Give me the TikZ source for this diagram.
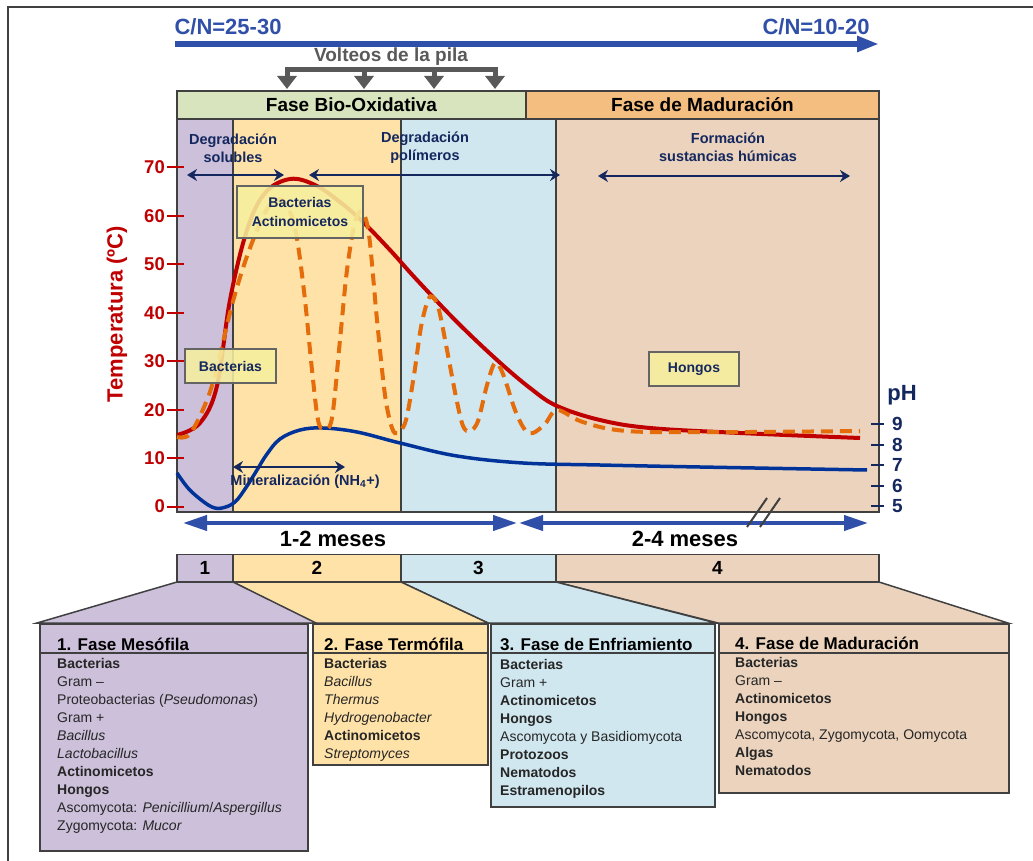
\documentclass[tikz,border=0pt]{standalone}
\usepackage{fontspec}
\setmainfont{Liberation Sans}
\usetikzlibrary{arrows.meta, positioning, calc}

\definecolor{frameGray}{RGB}{64,64,64}
\definecolor{cnBlue}{RGB}{47,79,168}
\definecolor{navyText}{RGB}{20,40,95}
\definecolor{tempRed}{RGB}{192,0,0}
\definecolor{heatOrange}{RGB}{228,108,10}
\definecolor{phBlue}{RGB}{0,51,153}
\definecolor{mesoColor}{RGB}{204,192,218}
\definecolor{termoColor}{RGB}{255,226,168}
\definecolor{enfriaColor}{RGB}{208,231,239}
\definecolor{maduraColor}{RGB}{235,211,189}
\definecolor{bioColor}{RGB}{215,228,189}
\definecolor{madHeadColor}{RGB}{243,190,128}
\definecolor{tagColor}{RGB}{246,239,158}
\definecolor{tagEdge}{RGB}{100,100,100}
\definecolor{turnGray}{RGB}{89,89,89}

\newcommand{\fsz}[1]{\fontsize{#1}{#1}\selectfont}

\tikzstyle{phasehead} = [rectangle, draw=frameGray, line width=1.5pt, minimum height=28pt, inner sep=0pt, font=\fsz{19}\bfseries]
\tikzstyle{numbox} = [rectangle, draw=frameGray, line width=1.5pt, minimum height=27pt, inner sep=0pt, font=\fsz{19}\bfseries]
\tikzstyle{tagbox} = [rectangle, draw=tagEdge, line width=1.5pt, fill=tagColor, fill opacity=0.88, text opacity=1, text=navyText, inner sep=0pt, align=center, font=\fontsize{14}{19}\selectfont\bfseries]
\tikzstyle{listbox} = [rectangle, draw=frameGray, line width=1.8pt, anchor=north west, inner sep=0pt]
\tikzstyle{listtitle} = [anchor=base west, inner sep=0pt, font=\fsz{17}\bfseries]
\tikzstyle{listtext} = [anchor=north west, inner sep=0pt, align=left, text=black!85, font=\fontsize{14}{18}\selectfont]
\tikzstyle{stagelabel} = [text=navyText, align=center, font=\fontsize{14.5}{18}\selectfont\bfseries]
\tikzstyle{spanarrow} = [navyText, line width=1.8pt, {Stealth[length=10pt,width=12pt]}-{Stealth[length=10pt,width=12pt]}]
\tikzstyle{timearrow} = [cnBlue, line width=4pt, {Triangle[length=24pt,width=15pt]}-{Triangle[length=24pt,width=15pt]}]
\tikzstyle{timelabel} = [font=\fsz{22}\bfseries]
\tikzstyle{turnarrow} = [turnGray, line width=5pt]
\tikzstyle{templabel} = [text=tempRed, anchor=east, inner sep=0pt, font=\fsz{18.5}\bfseries]
\tikzstyle{phlabel} = [text=navyText, anchor=west, inner sep=0pt, font=\fsz{19}\bfseries]
\tikzstyle{cnlabel} = [text=cnBlue, font=\fsz{22}\bfseries]
\tikzstyle{funnel} = [draw=frameGray, line width=1.5pt]

\begin{document}
\begin{tikzpicture}[x=1pt, y=-1pt]
\useasboundingbox (0,0) rectangle (1033,861);
\draw[frameGray, line width=2.5pt] (8,861) -- (8,7) -- (1033,7);

\node (cnHigh) [cnlabel] at (228,27) {C/N=25-30};
\node (cnLow) [cnlabel] at (816,27) {C/N=10-20};
\coordinate (cnStart) at (175,44);
\coordinate (cnEnd) at (879,44);
\draw[cnBlue, line width=5.5pt, -{Triangle[length=22pt,width=15pt]}] (cnStart) -- (cnEnd);

\node (volteos) [text=turnGray, font=\fsz{19}\bfseries] at (391,57) {Volteos de la pila};
\foreach \i/\x in {1/287,2/364,3/434,4/495} {
  \coordinate (v\i) at (\x,70);
  \coordinate (vt\i) at (\x,89);
}
\draw[turnarrow, line cap=rect] (v1) -- (v4);
\foreach \i in {1,...,4}
  \draw[turnarrow, -{Triangle[length=13pt,width=19pt]}] (v\i) -- (vt\i);

\node (bioHead) [phasehead, fill=bioColor, minimum width=349pt] at (351.5,105) {Fase Bio-Oxidativa};
\node (madHead) [phasehead, fill=madHeadColor, minimum width=353pt] at (702.5,105) {Fase de Maduración};

\fill[mesoColor] (177,119) rectangle (233,512);
\fill[termoColor] (233,119) rectangle (401,512);
\fill[enfriaColor] (401,119) rectangle (556,512);
\fill[maduraColor] (556,119) rectangle (879,512);
\draw[frameGray, line width=1.5pt] (177,119) rectangle (879,512);
\foreach \x in {233,401,556}
  \draw[frameGray, line width=1.5pt] (\x,119) -- (\x,512);

\draw[phBlue, line width=3.5pt] plot[smooth, tension=0.6] coordinates {(177,473) (188,488) (200,499) (212,507) (222,508) (235,502) (247,486) (257,470) (267,454) (280,439) (300,430) (323,428) (357,432) (400,443) (457,456) (523,463) (600,465) (700,467) (867,470)};
\draw[tempRed, line width=4pt] plot[smooth, tension=0.6] coordinates {(177,435) (200,423) (217,386) (230,300) (247,230) (265,193) (290,179) (315,185) (340,202) (363,222) (390,250) (417,280) (457,322) (497,360) (530,388) (557,406) (600,420) (650,428) (740,433) (860,438)};
\draw[heatOrange, line width=4pt, dash pattern=on 12pt off 7pt] plot[smooth, tension=0.55] coordinates {(177,437) (190,434) (207,400) (217,367) (232,305) (245,262) (258,228) (270,205) (282,200) (292,217) (298,245) (305,300) (312,370) (318,420) (324,429) (332,418) (340,340) (347,270) (355,222) (362,212) (369,235) (377,320) (385,395) (392,428) (398,433) (406,420) (414,375) (421,327) (428,300) (433,297) (439,310) (447,350) (456,397) (463,426) (470,431) (478,421) (487,385) (495,363) (503,374) (515,410) (525,430) (533,433) (545,424) (557,410) (580,421) (610,429) (650,432) (750,432) (860,431)};

\foreach \t in {0,10,...,70} {
  \draw[tempRed, line width=2pt] (167,{506.5-4.843*\t}) -- (184,{506.5-4.843*\t});
  \node (temp\t) [templabel] at (165,{506.5-4.843*\t}) {\t};
}
\node (tempTitle) [rotate=90, text=tempRed, font=\fsz{22}\bfseries] at (117,314) {Temperatura (ºC)};

\foreach \p in {5,...,9} {
  \draw[navyText, line width=2pt] (871,{506-20.5*(\p-5)}) -- (884,{506-20.5*(\p-5)});
  \node (ph\p) [phlabel] at (892,{506-20.5*(\p-5)}) {\p};
}
\node (phTitle) [text=navyText, font=\fsz{22}\bfseries] at (902,395) {pH};

\node (degSol) [stagelabel] at (233,148) {Degradación\\solubles};
\node (degPol) [stagelabel] at (425,148) {Degradación\\polímeros};
\node (humic) [stagelabel] at (728,147) {Formación\\sustancias húmicas};
\coordinate (solA) at (187,175);
\coordinate (solB) at (284,175);
\coordinate (polA) at (309,175);
\coordinate (polB) at (560,175);
\coordinate (humA) at (598,176);
\coordinate (humB) at (850,176);
\draw[spanarrow] (solA) -- (solB);
\draw[spanarrow] (polA) -- (polB);
\draw[spanarrow] (humA) -- (humB);

\node (tagBA) [tagbox, minimum width=126pt, minimum height=52pt] at (300,212) {Bacterias\\Actinomicetos};
\node (tagB) [tagbox, minimum width=91pt, minimum height=34pt] at (230.5,366) {Bacterias};
\node (tagH) [tagbox, minimum width=90pt, minimum height=34pt] at (694,369) {Hongos};

\coordinate (minA) at (233,467);
\coordinate (minB) at (345,467);
\draw[spanarrow] (minA) -- (minB);
\node (mineral) [stagelabel] at (305,482) {Mineralización (NH\textsubscript{4}+)};

\coordinate (earlyA) at (183,523);
\coordinate (earlyB) at (517,523);
\coordinate (lateA) at (519,523);
\coordinate (lateB) at (868,523);
\draw[timearrow] (earlyA) -- (earlyB);
\draw[timearrow] (lateA) -- (lateB);
\node (earlyLabel) [timelabel] at (333,539) {1-2 meses};
\node (lateLabel) [timelabel] at (685,539) {2-4 meses};
\coordinate (s1a) at (747,527);
\coordinate (s1b) at (767,498);
\coordinate (s2a) at (760,527);
\coordinate (s2b) at (780,498);
\draw[frameGray, line width=2pt] (s1a) -- (s1b) (s2a) -- (s2b);

\filldraw[funnel, fill=maduraColor] (556,582) -- (879,582) -- (1008,623) -- (718,623) -- cycle;
\filldraw[funnel, fill=enfriaColor] (401,582) -- (556,582) -- (716,623) -- (488,623) -- cycle;
\filldraw[funnel, fill=termoColor] (233,582) -- (401,582) -- (488,623) -- (312,623) -- cycle;
\filldraw[funnel, fill=mesoColor] (177,582) -- (233,582) -- (316,623) -- (37,623) -- cycle;

\node (bar1) [numbox, fill=mesoColor, minimum width=56pt] at (205,568) {1};
\node (bar2) [numbox, fill=termoColor, minimum width=168pt] at (317,568) {2};
\node (bar3) [numbox, fill=enfriaColor, minimum width=155pt] at (478.5,568) {3};
\node (bar4) [numbox, fill=maduraColor, minimum width=323pt] at (717.5,568) {4};

\node (mesoBox) [listbox, fill=mesoColor, minimum width=268pt, minimum height=227pt] at (39,623) {};
\node (termoBox) [listbox, fill=termoColor, minimum width=175pt, minimum height=141pt] at (312,623) {};
\node (enfriaBox) [listbox, fill=enfriaColor, minimum width=224pt, minimum height=183pt] at (490,623) {};
\node (maduraBox) [listbox, fill=maduraColor, minimum width=290pt, minimum height=169pt] at (718,623) {};
\foreach \b in {mesoBox,termoBox,enfriaBox,maduraBox}
  \draw[frameGray, line width=1.5pt] ($(\b.north west)+(0,30)$) -- ($(\b.north east)+(0,30)$);

\node (mesoTitle) [listtitle] at (57,650) {1. Fase Mesófila};
\node (mesoList) [listtext] at (57,658) {\textbf{Bacterias}\\Gram –\\Proteobacterias (\textit{Pseudomonas})\\Gram +\\\textit{Bacillus}\\\textit{Lactobacillus}\\\textbf{Actinomicetos}\\\textbf{Hongos}\\Ascomycota: \textit{Penicillium}/\textit{Aspergillus}\\Zygomycota: \textit{Mucor}};
\node (termoTitle) [listtitle] at (324,650) {2. Fase Termófila};
\node (termoList) [listtext] at (324,658) {\textbf{Bacterias}\\\textit{Bacillus}\\\textit{Thermus}\\\textit{Hydrogenobacter}\\\textbf{Actinomicetos}\\\textit{Streptomyces}};
\node (enfriaTitle) [listtitle] at (500,650) {3. Fase de Enfriamiento};
\node (enfriaList) [listtext] at (500,659) {\textbf{Bacterias}\\Gram +\\\textbf{Actinomicetos}\\\textbf{Hongos}\\Ascomycota y Basidiomycota\\\textbf{Protozoos}\\\textbf{Nematodos}\\\textbf{Estramenopilos}};
\node (maduraTitle) [listtitle] at (735,649) {4. Fase de Maduración};
\node (maduraList) [listtext] at (735,657) {\textbf{Bacterias}\\Gram –\\\textbf{Actinomicetos}\\\textbf{Hongos}\\Ascomycota, Zygomycota, Oomycota\\\textbf{Algas}\\\textbf{Nematodos}};
\end{tikzpicture}
\end{document}
